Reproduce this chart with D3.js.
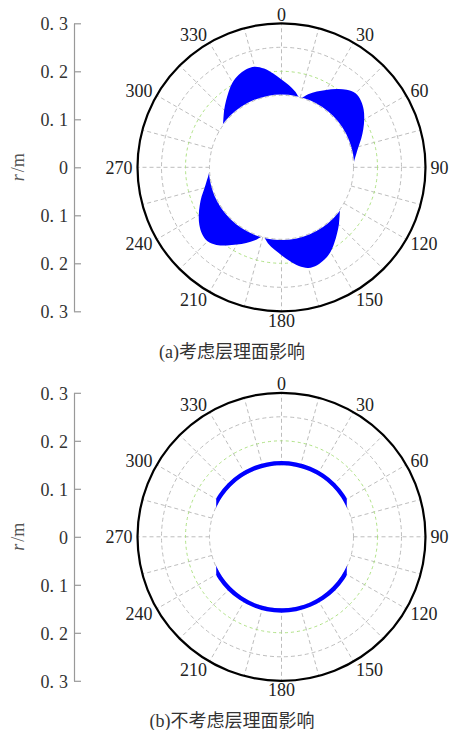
<!DOCTYPE html>
<html><head><meta charset="utf-8">
<script src="https://cdn.jsdelivr.net/npm/d3@7"></script>
<style>html,body{margin:0;padding:0;background:#fff;}svg{display:block;}</style>
</head><body>
<svg id="chart" width="451" height="730"></svg>
<script>
// ---------- data ----------
const angleLabels = [0, 30, 60, 90, 120, 150, 180, 210, 240, 270, 300, 330];
const gridAngles = [0,15,30,45,60,75,90,105,120,135,150,165,180,195,210,225,240,255,270,285,300,315,330,345];
const rTickValues = [0.3, 0.2, 0.1, 0, -0.1, -0.2, -0.3];
const rMax = 0.3;
const holeRadius = 0.15;
const grayCircles = [0.15, 0.25];
const greenCircles = [0.2];
// panel (a): outer radius of the blue (plastic) zone, angle clockwise from top (deg)
const anglesA = [0,5,10,15,20,25,30,35,40,45,50,55,60,65,70,75,80,85,90,95,100,105,110,115,120,125,
  130,135,140,145,150,155,160,165,170,175,180,185,190,195,200,205,210,215,220,225,230,235,240,245,
  250,255,260,265,270,275,280,285,290,295,300,305,310,315,320,325,330,335,340,345,350,355];
const radiusA = [0.183,0.172,0.161,0.150,0.162,0.174,0.186,0.199,0.211,0.218,0.216,0.209,0.199,0.188,0.177,0.166,0.158,0.152,0.150,0.150,0.150,0.150,0.150,0.150,0.150,0.150,
  0.158,0.169,0.180,0.192,0.204,0.212,0.217,0.217,0.209,0.196,0.183,0.172,0.161,0.150,0.162,0.174,0.186,0.199,0.211,0.218,0.216,0.209,0.199,0.188,
  0.177,0.166,0.158,0.152,0.150,0.150,0.150,0.150,0.150,0.150,0.150,0.150,0.158,0.169,0.180,0.192,0.204,0.212,0.217,0.217,0.209,0.196];
// panel (b): thin blue band
const bandInnerB = 0.149;
const bandOuterB = 0.158;
const bandHalfWidthB = 0.136; // horizontal extent (m) of the band ends
const captions = ["(a)考虑层理面影响", "(b)不考虑层理面影响"];

// ---------- layout ----------
const svg = d3.select("#chart");
const W = 451, H = 730;
svg.append("rect").attr("width", W).attr("height", H).attr("fill", "#fff");
const defs = svg.append("defs");
const R = 144;
const cx = 281.5;
const panelCY = [167.3, 536.8];
const axisX = 74;
const rScale = d3.scaleLinear().domain([0, rMax]).range([0, R]);
const serif = "'Liberation Serif','DejaVu Serif',serif";

// mask that hides the hole (r < holeRadius)
const mask = defs.append("mask").attr("id", "holeMask").attr("maskUnits", "userSpaceOnUse")
  .attr("x", -R).attr("y", -R).attr("width", 2 * R).attr("height", 2 * R);
mask.append("rect").attr("x", -R).attr("y", -R).attr("width", 2 * R).attr("height", 2 * R).attr("fill", "#fff");
mask.append("circle").attr("r", rScale(holeRadius) + 0.8).attr("fill", "#000");

function panel(idx) {
  const cy = panelCY[idx];
  const g = svg.append("g").attr("transform", `translate(${cx},${cy})`);

  // radial grid
  g.selectAll("line.rad").data(gridAngles).join("line")
    .attr("x1", d => rScale(holeRadius) * Math.sin(d * Math.PI / 180))
    .attr("y1", d => -rScale(holeRadius) * Math.cos(d * Math.PI / 180))
    .attr("x2", d => rScale(rMax) * Math.sin(d * Math.PI / 180))
    .attr("y2", d => -rScale(rMax) * Math.cos(d * Math.PI / 180))
    .attr("stroke", "#b5b5b5").attr("stroke-width", 0.9).attr("stroke-dasharray", "4,3");
  g.selectAll("circle.gc").data(grayCircles).join("circle")
    .attr("r", d => rScale(d)).attr("fill", "none")
    .attr("stroke", "#b5b5b5").attr("stroke-width", 0.9).attr("stroke-dasharray", "4,3");
  g.selectAll("circle.gr").data(greenCircles).join("circle")
    .attr("r", d => rScale(d)).attr("fill", "none")
    .attr("stroke", "#a6de78").attr("stroke-width", 0.9).attr("stroke-dasharray", "3,3");

  if (idx === 0) {
    const pts = anglesA.map((a, i) => [a * Math.PI / 180, rScale(radiusA[i])]);
    const outer = d3.lineRadial().curve(d3.curveCatmullRomClosed.alpha(0.5))(pts);
    g.append("path").attr("d", outer).attr("fill", "#0000ff").attr("mask", "url(#holeMask)");
  } else {
    const clipId = "clipB";
    defs.append("clipPath").attr("id", clipId)
      .append("rect")
      .attr("x", -rScale(bandHalfWidthB)).attr("y", -R)
      .attr("width", 2 * rScale(bandHalfWidthB)).attr("height", 2 * R);
    g.append("path")
      .attr("d", d3.arc()({innerRadius: rScale(bandInnerB), outerRadius: rScale(bandOuterB), startAngle: 0, endAngle: 2 * Math.PI}))
      .attr("fill", "#0000ff").attr("clip-path", `url(#${clipId})`);
  }

  // outer circle
  g.append("circle").attr("r", rScale(rMax)).attr("fill", "none")
    .attr("stroke", "#000").attr("stroke-width", 2.2);

  // angle labels
  const fs = 18, hh = 6;
  g.selectAll("text.ang").data(angleLabels).join("text")
    .attr("font-family", serif).attr("font-size", fs).attr("fill", "#222")
    .attr("text-anchor", "middle")
    .attr("x", d => {
      const s = Math.sin(d * Math.PI / 180);
      const hw = String(d).length * 4.5;
      const sg = Math.abs(s) < 1e-6 ? 0 : Math.sign(s);
      return (R + 5) * s + hw * sg;
    })
    .attr("y", d => {
      const c = Math.cos(d * Math.PI / 180);
      return -(R + 3) * c - hh * c + 6.3;
    })
    .text(d => d);

  // left r axis
  const yScale = d3.scaleLinear().domain([rMax, -rMax]).range([cy - R, cy + R]);
  const ax = svg.append("g").attr("transform", `translate(${axisX},0)`)
    .call(d3.axisLeft(yScale).tickValues(rTickValues).tickSizeInner(-7).tickSizeOuter(0).tickPadding(6)
      .tickFormat(() => ""));
  ax.select(".domain").attr("stroke", "#999").attr("stroke-width", 1.2);
  ax.selectAll(".tick line").attr("stroke", "#999").attr("stroke-width", 1.2);
  ax.selectAll(".tick text").remove();
  ax.selectAll(".tick").each(function(d) {
    const t = d3.select(this).append("text")
      .attr("x", -6).attr("dy", "0.36em").attr("text-anchor", "end")
      .attr("font-family", serif).attr("font-size", 18).attr("fill", "#333");
    const v = Math.abs(d);
    if (v === 0) { t.text("0"); }
    else {
      const s = d3.format(".1f")(v);
      t.append("tspan").text(s.slice(0, 2));
      t.append("tspan").attr("dx", 5).text(s.slice(2));
    }
  });

  // axis title r/m
  const tt = svg.append("text")
    .attr("transform", `translate(${24},${cy}) rotate(-90)`)
    .attr("text-anchor", "middle").attr("font-family", serif).attr("font-size", 18).attr("fill", "#555");
  tt.append("tspan").attr("font-style", "italic").text("r");
  tt.append("tspan").attr("dx", 2).text("/m");

  // caption
  svg.append("text")
    .attr("x", 232).attr("y", cy + R + 47 + (idx === 1 ? -1 : 0))
    .attr("text-anchor", "middle")
    .attr("font-family", "'Liberation Serif','Noto Sans CJK SC',serif")
    .attr("font-size", 18).attr("fill", "#333")
    .text(captions[idx]);
}
panel(0);
panel(1);
</script>
</body></html>
